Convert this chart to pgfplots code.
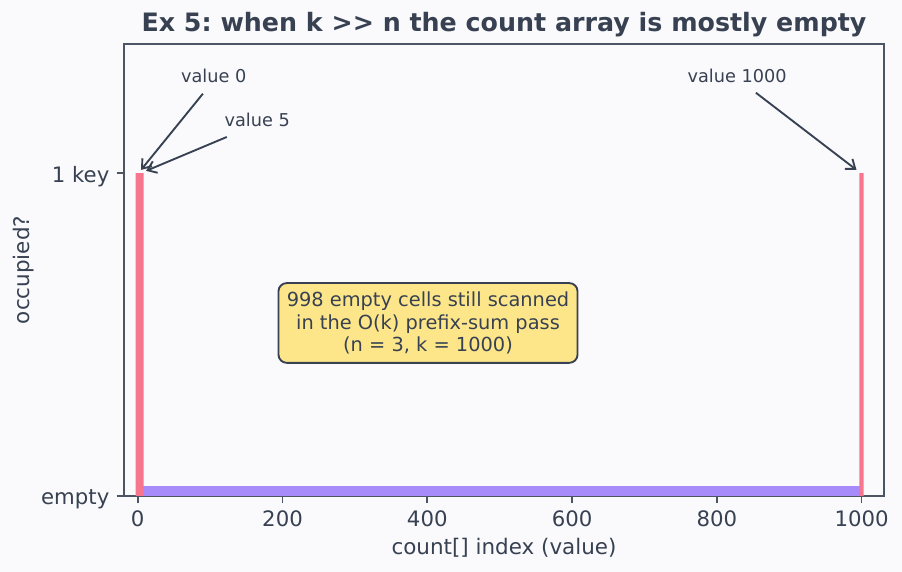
\documentclass[border=0pt]{standalone}
\usepackage{fontspec}
\setmainfont{DejaVu Sans}
\usepackage{pgfplots}
\pgfplotsset{compat=1.18}
\usetikzlibrary{arrows.meta}
\definecolor{bg}{HTML}{FAFAFD}
\definecolor{txt}{HTML}{374151}
\definecolor{spine}{HTML}{4B5563}
\definecolor{redbar}{HTML}{F7768E}
\definecolor{purp}{HTML}{A78BFA}
\definecolor{boxy}{HTML}{FDE68A}
\frenchspacing
\begin{document}
\begin{tikzpicture}
\fill[bg] (-59.52pt,-36.48pt) rectangle (373.44pt,238.08pt);
\useasboundingbox (-59.52pt,-36.48pt) rectangle (373.44pt,238.08pt);
\begin{axis}[
 at={(0,0)}, anchor=south west, scale only axis, width=364.8pt, height=216.96pt,
 xmin=-19, xmax=1031, ymin=0, ymax=1.4,
 axis line style={spine, line width=0.8pt},
 xtick={0,200,...,1000}, ytick={0,1}, yticklabels={empty, 1 key},
 tick align=outside, tick pos=left, major tick length=3.5pt,
 every tick/.style={spine, line width=0.8pt},
 ticklabel style={font=\fontsize{10.2}{12}\selectfont, text=txt},
 yticklabel style={anchor=base east, yshift=-4.3pt},
 /pgf/number format/assume math mode=true,
 /pgf/number format/1000 sep={},
 xlabel={count[] index (value)}, ylabel={occupied?},
 label style={font=\fontsize{10.3}{12}\selectfont, text=txt},
 xlabel style={at={(axis description cs:0.5,-0.1152)}, anchor=center},
 ylabel style={at={(axis description cs:-0.1316,0.5)}, anchor=center},
 axis background/.style={fill=bg},
 clip=false,
]
\addplot[ybar, bar width=1001, fill=purp, draw=none] coordinates {(500,0.03)};
\addplot[ybar, bar width=6, fill=redbar, draw=none] coordinates {(0,1) (5,1) (1000,1)};

\draw[-{Straight Barb[length=4pt,width=6pt]}, txt, line width=0.9pt] (axis cs:90,1.246) -- (axis cs:4.5,1.01);
\draw[-{Straight Barb[length=4pt,width=6pt]}, txt, line width=0.9pt] (axis cs:123,1.112) -- (axis cs:11.5,1.007);
\draw[-{Straight Barb[length=4pt,width=6pt]}, txt, line width=0.9pt] (axis cs:854,1.249) -- (axis cs:993,1.01);
\node[font=\fontsize{8.5}{10}\selectfont, text=txt] at (axis cs:105,1.30) {value 0};
\node[font=\fontsize{8.5}{10}\selectfont, text=txt] at (axis cs:165,1.165) {value 5};
\node[font=\fontsize{8.5}{10}\selectfont, text=txt] at (axis cs:828,1.30) {value 1000};

\node[draw=txt, fill=boxy, rounded corners=4pt, line width=0.9pt, align=center, font=\fontsize{9.3}{11}\selectfont, text=txt, inner sep=4pt] at (axis cs:401,0.536) {998 empty cells still scanned\\in the O(k) prefix-sum pass\\(n = 3, k = 1000)};

\node[font=\bfseries\fontsize{12.15}{14}\selectfont, text=txt, anchor=center] at (rel axis cs:0.5,1) [yshift=9.4pt] {Ex 5: when k >{}> n the count array is mostly empty};
\end{axis}
\end{tikzpicture}
\end{document}
